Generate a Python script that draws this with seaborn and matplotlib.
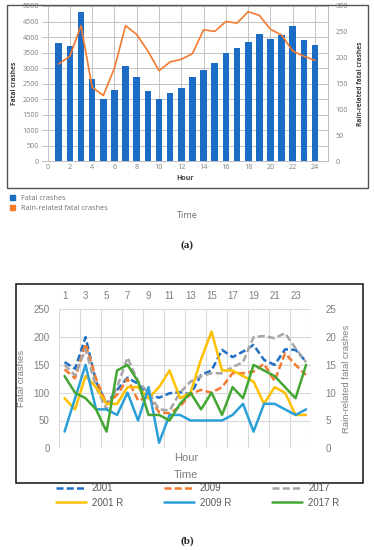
import numpy as np
import matplotlib.pyplot as plt
import seaborn as sns
from matplotlib.patches import Rectangle, Patch

hours = list(range(1, 25))

# (a) all fatal crashes (bars) and rain-related fatal crashes (line)
fatal = [3800, 3700, 4800, 2650, 2020, 2310, 3060, 2720, 2260, 2020, 2210, 2360,
         2700, 2950, 3160, 3500, 3650, 3850, 4100, 3950, 4060, 4350, 3890, 3730]
rain = [188, 203, 262, 143, 127, 180, 262, 245, 213, 175, 192, 197,
        208, 254, 251, 270, 267, 289, 282, 255, 244, 213, 203, 195]

# (b) fatal crashes per year (left axis) and rain-related (right axis)
f2001 = [155, 143, 200, 120, 80, 105, 127, 116, 97, 91, 99, 101,
         97, 132, 140, 177, 164, 174, 186, 159, 150, 178, 177, 156]
f2009 = [142, 126, 188, 125, 79, 96, 125, 86, 92, 65, 63, 75,
         98, 105, 100, 110, 135, 135, 138, 152, 121, 171, 150, 132]
f2017 = [150, 131, 178, 110, 70, 110, 163, 120, 100, 70, 68, 100,
         120, 130, 135, 135, 146, 155, 200, 202, 198, 207, 180, 155]
r2001 = [9, 7, 13, 11, 8, 8, 11, 11, 9, 11, 14, 9,
         10, 16, 21, 14, 14, 13, 12, 8, 11, 10, 6, 6]
r2009 = [3, 9, 15, 7, 7, 6, 10, 5, 11, 1, 6, 6,
         5, 5, 5, 5, 6, 8, 3, 8, 8, 7, 6, 7]
r2017 = [13, 10, 9, 7, 3, 14, 15, 12, 6, 6, 5, 8,
         10, 7, 10, 6, 11, 9, 15, 14, 13, 11, 9, 15]

sns.set_theme(style='white')
plt.rcParams['font.family'] = ['Open Sans', 'DejaVu Sans']

W, H = 374, 550
fig = plt.figure(figsize=(W / 100, H / 100), dpi=100)


def fx(px):
    return px / W


def fy(py):
    return 1 - py / H


# ---------------- chart (a) ----------------
fig.patches.append(Rectangle((fx(7.3), fy(187.7)), fx(360.4), 183 / H, transform=fig.transFigure,
                             fill=False, edgecolor='#555555', lw=1.0))
axa = fig.add_axes([fx(42), fy(161.3), fx(286.4), 155.3 / H])
sns.barplot(x=hours, y=fatal, native_scale=True, width=0.6, color='#1a6cc4', saturation=1,
            linewidth=0, ax=axa)
axa.set_xlim(-0.5, 25.2)
axa.set_ylim(0, 5000)
axa.set_xticks(range(0, 25, 2))
axa.set_yticks(range(0, 5001, 500))
axa.grid(True, color='#c4c4c4', lw=0.7)
axa.set_axisbelow(True)
for s in ['top', 'left']:
    axa.spines[s].set_visible(False)
for s in ['bottom', 'right']:
    axa.spines[s].set_color('#bbbbbb')
    axa.spines[s].set_linewidth(0.7)
axa.tick_params(labelsize=5.2, colors='#808080', length=0, pad=2)
axa.set_xlabel('Hour', fontsize=5, fontweight='bold', color='#404040', labelpad=3)
axa.set_ylabel('Fatal crashes', fontsize=4.8, fontweight='bold', color='#404040')
axa.yaxis.set_label_coords((18.5 - 42) / 286.4, 0.5)

axa2 = axa.twinx()
sns.lineplot(x=hours, y=rain, color='#f47a2e', lw=1.2, ax=axa2)
axa2.set_ylim(0, 300)
axa2.set_yticks(range(0, 301, 50))
axa2.grid(False)
for s in axa2.spines.values():
    s.set_visible(False)
axa2.tick_params(labelsize=5.2, colors='#808080', length=0, pad=5)
axa2.set_ylabel('Rain-related fatal crashes', fontsize=4.8, fontweight='bold', color='#404040')
axa2.yaxis.set_label_coords((356.5 - 42) / 286.4, 0.5)

fig.legend(handles=[Patch(color='#1a6cc4', label='Fatal crashes'),
                    Patch(color='#f47a2e', label='Rain-related fatal crashes')],
           loc='upper left', bbox_to_anchor=(fx(6.5), fy(191.5)), frameon=False,
           fontsize=5.2, labelcolor='#707070', handlelength=0.7, handleheight=0.7,
           handletextpad=0.8, labelspacing=0.45, borderpad=0)
fig.text(fx(187), fy(216), 'Time', fontsize=6.6, color='#707070', ha='center', va='center')
fig.text(fx(187), fy(245), '(a)', fontsize=8, fontweight='bold', family='Liberation Serif',
         ha='center', va='center')

# ---------------- chart (b) ----------------
fig.patches.append(Rectangle((fx(15.7), fy(482.7)), fx(347), 198.4 / H, transform=fig.transFigure,
                             fill=False, edgecolor='#111111', lw=1.1))
axb = fig.add_axes([fx(59.3), fy(448.3), fx(252), 139 / H])
dash = (0, (2.8, 1.3))
handles = {}
for name, vals, col in [('2001', f2001, '#1f6fc6'), ('2009', f2009, '#f47b30'),
                        ('2017', f2017, '#a6a6a6')]:
    sns.lineplot(x=hours, y=vals, color=col, lw=1.8, linestyle=dash, ax=axb)
    handles[name] = axb.lines[-1]
axb.set_xlim(0.5, 24.5)
axb.set_ylim(0, 250)
axb.set_yticks(range(0, 251, 50))
axb.xaxis.tick_top()
axb.set_xticks(range(1, 25, 2))
axb.set_xticks(np.arange(0.5, 25, 2), minor=True)
axb.grid(False)
axb.grid(True, which='minor', axis='x', color='#d9d9d9', lw=0.8)
axb.grid(True, which='major', axis='y', color='#d9d9d9', lw=0.8)
axb.set_axisbelow(True)
for s in axb.spines.values():
    s.set_visible(False)
axb.tick_params(which='both', labelsize=7, colors='#7f7f7f', length=0)
axb.tick_params(axis='y', pad=7)
axb.tick_params(axis='x', pad=6)
axb.set_ylabel('Fatal crashes', fontsize=6.8, color='#7f7f7f', family='Liberation Sans')
axb.yaxis.set_label_coords((26.5 - 59.3) / 252, 0.5)
for t in axb.get_xticklabels() + axb.get_yticklabels():
    t.set_family('Liberation Sans')

axb2 = axb.twinx()
for name, vals, col in [('2001 R', r2001, '#ffc000'), ('2009 R', r2009, '#2a9fd8'),
                        ('2017 R', r2017, '#44a633')]:
    sns.lineplot(x=hours, y=vals, color=col, lw=1.8, ax=axb2)
    handles[name] = axb2.lines[-1]
axb2.set_ylim(0, 25)
axb2.set_yticks(range(0, 26, 5))
axb2.grid(False)
for s in axb2.spines.values():
    s.set_visible(False)
axb2.tick_params(labelsize=7, colors='#7f7f7f', length=0, pad=10)
axb2.set_ylabel('Rain-related fatal crashes', fontsize=6.8, color='#7f7f7f', family='Liberation Sans')
axb2.yaxis.set_label_coords((342.5 - 59.3) / 252, 0.5)
for t in axb2.get_yticklabels():
    t.set_family('Liberation Sans')

axb.text(0.503, (448.3 - 458) / 139, 'Hour', transform=axb.transAxes, fontsize=8,
         color='#7f7f7f', family='Liberation Sans', ha='center', va='center')
axb.text(0.503, (448.3 - 475) / 139, 'Time', transform=axb.transAxes, fontsize=8,
         color='#7f7f7f', family='Liberation Sans', ha='center', va='center')

order = ['2001', '2001 R', '2009', '2009 R', '2017', '2017 R']
fig.legend(handles=[handles[k] for k in order], labels=order, ncol=3,
           loc='upper left', bbox_to_anchor=(fx(56), fy(483)), frameon=False,
           prop={'family': 'Liberation Sans', 'size': 7}, labelcolor='#595959',
           handlelength=3.1, handletextpad=0.6, columnspacing=4.2, labelspacing=0.5,
           borderpad=0, borderaxespad=0)
fig.text(fx(187), fy(541), '(b)', fontsize=8, fontweight='bold', family='Liberation Serif',
         ha='center', va='center')

fig.savefig('out.png', dpi=100)
